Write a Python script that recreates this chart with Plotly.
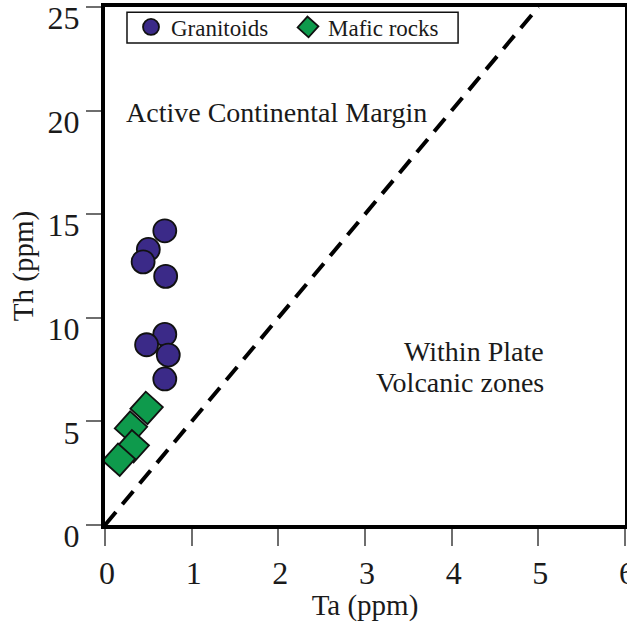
import plotly.graph_objects as go

# Granitoid samples (Ta, Th in ppm)
ta_granitoids = [0.69, 0.50, 0.44, 0.70, 0.69, 0.48, 0.73, 0.69]
th_granitoids = [14.2, 13.3, 12.7, 12.0, 9.2, 8.7, 8.2, 7.05]

# Mafic rock samples (Ta, Th in ppm)
ta_mafic = [0.48, 0.30, 0.32, 0.16]
th_mafic = [5.65, 4.7, 3.8, 3.15]

# Boundary between the two tectonic fields
boundary_ta = [0, 5]
boundary_th = [0, 25]

x_ticks = [0, 1, 2, 3, 4, 5, 6]
y_ticks = [0, 5, 10, 15, 20, 25]

FONT = "Liberation Serif"
INK = "#1a1a1a"

fig = go.Figure()

fig.add_trace(go.Scatter(
    x=boundary_ta, y=boundary_th, mode="lines",
    line=dict(color="black", width=4, dash="17px,10px"),
    showlegend=False, hoverinfo="skip",
))

fig.add_trace(go.Scatter(
    x=ta_granitoids, y=th_granitoids, mode="markers", name="Granitoids",
    marker=dict(symbol="circle", size=23, color="#3b2a88",
                line=dict(color="#111111", width=1.8)),
))

fig.add_trace(go.Scatter(
    x=ta_mafic, y=th_mafic, mode="markers", name="Mafic rocks",
    marker=dict(symbol="diamond", size=25, color="#0e9a4c", angle=-3,
                line=dict(color="#111111", width=1.8)),
))

fig.add_annotation(x=1.975, y=19.9, text="Active Continental Margin",
                   showarrow=False, xanchor="center", yanchor="middle",
                   font=dict(family=FONT, size=28, color=INK))
fig.add_annotation(x=5.09, y=8.35, text="Within Plate",
                   showarrow=False, xanchor="right", yanchor="middle",
                   font=dict(family=FONT, size=28, color=INK))
fig.add_annotation(x=5.09, y=6.9, text="Volcanic zones",
                   showarrow=False, xanchor="right", yanchor="middle",
                   font=dict(family=FONT, size=28, color=INK))

# Frame drawn behind the legend entries
fig.add_shape(type="rect", xref="paper", yref="paper",
              x0=0.0423, x1=0.679, y0=0.9305, y1=0.990,
              line=dict(color="#111111", width=1.5), fillcolor="white", layer="below")

axis_common = dict(
    showline=True, linecolor="black", linewidth=4, mirror=True,
    ticks="outside", tickwidth=1.5, tickcolor="#6e6e6e",
    showgrid=False, zeroline=False, ticklabeloverflow="allow", automargin=False,
    tickfont=dict(family=FONT, size=32, color=INK),
)

fig.update_xaxes(range=[0, 6], tickvals=x_ticks, ticktext=[str(v) for v in x_ticks],
                 ticklen=17, ticklabelshift=2,
                 title=dict(text="Ta (ppm)", font=dict(family=FONT, size=29, color=INK),
                            standoff=2),
                 **axis_common)
fig.update_yaxes(range=[0, 25], tickvals=y_ticks, ticktext=[str(v) for v in y_ticks],
                 ticklen=15, ticklabelshift=11,
                 title=dict(text="Th (ppm)", font=dict(family=FONT, size=29, color=INK),
                            standoff=6),
                 **axis_common)

fig.update_layout(
    width=627, height=622,
    margin=dict(l=105, r=2, t=7, b=97, autoexpand=False),
    paper_bgcolor="white", plot_bgcolor="white",
    legend=dict(orientation="h", x=0.05, y=0.9614, xanchor="left", yanchor="middle",
                bgcolor="rgba(0,0,0,0)", borderwidth=0,
                font=dict(family=FONT, size=23, color=INK),
                itemwidth=30, entrywidth=112, tracegroupgap=0),
)

fig.write_html("out.html")
